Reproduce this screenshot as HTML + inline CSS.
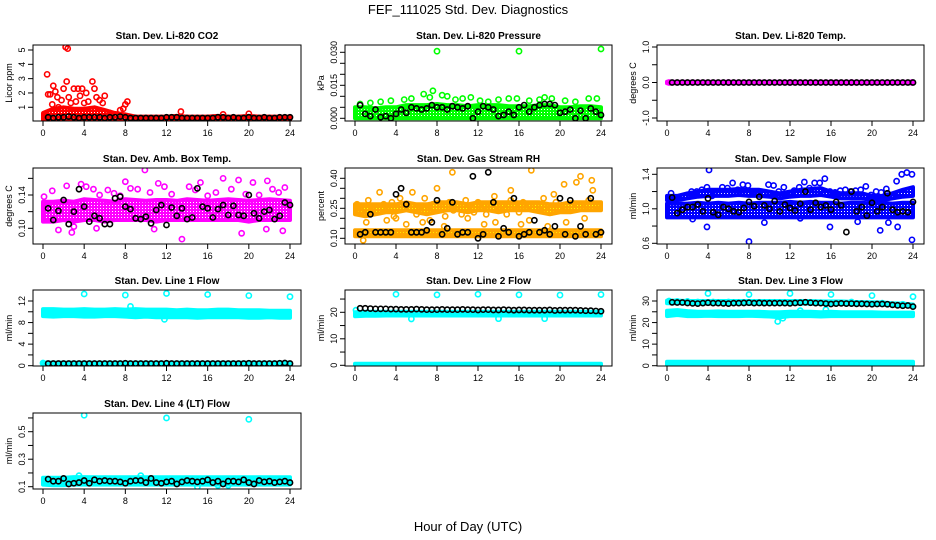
<!DOCTYPE html>
<html><head><meta charset="utf-8"><style>
body{margin:0;background:#fff;}
svg{display:block;font-family:"Liberation Sans",sans-serif;}
</style></head><body>
<svg id="c" width="936" height="540" viewBox="0 0 936 540">
<rect width="936" height="540" fill="#fff"/>
<text x="468" y="14" text-anchor="middle" font-size="13">FEF_111025  Std. Dev. Diagnostics</text>
<text x="468" y="531" text-anchor="middle" font-size="13">Hour of Day (UTC)</text>
</svg>
<script>
const hoursBand=[0,1,2,3,4,5,6,7,8,9,10,11,12,13,14,15,16,17,18,19,20,21,22,23,24];
const halfHours=[0.5,1,1.5,2,2.5,3,3.5,4,4.5,5,5.5,6,6.5,7,7.5,8,8.5,9,9.5,10,10.5,11,11.5,12,12.5,13,13.5,14,14.5,15,15.5,16,16.5,17,17.5,18,18.5,19,19.5,20,20.5,21,21.5,22,22.5,23,23.5,24];
const xTicks=[0,4,8,12,16,20,24];

// CO2
const co2BandLo=[0.1,0.1,0.1,0.1,0.1,0.1,0.1,0.1,0.1,0.1,0.1,0.1,0.1,0.1,0.1,0.1,0.1,0.1,0.1,0.1,0.1,0.1,0.1,0.1,0.1];
const co2BandHi=[0.6,0.9,1.0,0.9,0.9,1.0,0.8,0.6,0.5,0.35,0.35,0.35,0.35,0.4,0.35,0.35,0.35,0.4,0.35,0.35,0.4,0.35,0.35,0.35,0.35];
const co2X=[0.4,0.5,0.7,0.9,1.0,1.2,1.4,1.5,1.8,2.0,2.2,2.3,2.4,2.5,2.7,3.0,3.2,3.4,3.6,3.8,4.0,4.2,4.4,4.8,5.0,5.2,5.5,5.8,6.0,6.5,7.0,7.5,7.8,8.0,8.2,13.4,20.0,17.5];
const co2Y=[3.3,1.9,1.9,1.2,2.5,2.1,1.7,1.0,1.5,2.3,5.2,2.8,5.1,1.7,1.3,2.3,1.4,2.3,1.8,2.3,1.3,2.0,1.4,2.8,2.3,1.7,1.5,1.3,1.8,0.6,0.5,0.8,0.9,1.2,1.4,0.7,0.55,0.5];
const co2K=[0.3,0.25,0.3,0.3,0.35,0.3,0.25,0.3,0.3,0.3,0.3,0.25,0.3,0.3,0.35,0.3,0.25,0.25,0.25,0.25,0.25,0.25,0.25,0.3,0.3,0.3,0.25,0.25,0.25,0.25,0.25,0.25,0.25,0.3,0.3,0.25,0.3,0.25,0.25,0.3,0.25,0.25,0.3,0.25,0.25,0.3,0.3,0.3];

// Pressure
const prBandLo=[0,0,0,0,0,0,0,0,0,0,0,0,0,0,0,0,0,0,0,0,0,0,0,0,0];
const prBandHi=[0.005,0.005,0.0045,0.005,0.005,0.006,0.006,0.006,0.0065,0.006,0.006,0.0055,0.006,0.006,0.006,0.0055,0.0055,0.0055,0.006,0.006,0.005,0.005,0.0055,0.0055,0.005];
const prX=[0.5,1.5,2.5,3.5,4.8,5.5,6.7,7.3,7.6,8.0,8.5,9.0,9.8,10.5,11.3,12.2,13.0,14.0,15.0,15.8,16.0,17.0,18.0,18.5,19.2,20.5,21.5,22.8,23.6,24.0];
const prY=[0.0065,0.007,0.0075,0.008,0.0085,0.009,0.011,0.0095,0.0125,0.0305,0.0105,0.01,0.0085,0.009,0.0095,0.008,0.0075,0.0085,0.009,0.009,0.0305,0.008,0.0085,0.0095,0.009,0.008,0.0075,0.009,0.009,0.0315];
const prK=[0.006,0.002,0.001,0.004,0.0005,0.001,0,0.002,0.004,0.0025,0.005,0.0045,0.004,0.0045,0.006,0.005,0.005,0.004,0.0055,0.005,0.0045,0.0055,0,0.003,0.0055,0.005,0.004,0.001,0.0015,0.003,0.0015,0.005,0.006,0.003,0.005,0.006,0.0065,0.0065,0.006,0.0025,0.003,0.004,0,0.0035,0,0.0045,0.003,0.0015];

// Temp
const tpBandLo=[-0.02,-0.02,-0.02,-0.02,-0.02,-0.02,-0.02,-0.02,-0.02,-0.02,-0.02,-0.02,-0.02,-0.02,-0.02,-0.02,-0.02,-0.02,-0.02,-0.02,-0.02,-0.02,-0.02,-0.02,-0.02];
const tpBandHi=[0.02,0.02,0.02,0.02,0.02,0.02,0.02,0.02,0.02,0.02,0.02,0.02,0.02,0.02,0.02,0.02,0.02,0.02,0.02,0.02,0.02,0.02,0.02,0.02,0.02];
const tpX=[0.2,6.0,12.0,18.0,23.9];
const tpY=[0,0,0,0,0];
const tpK=[0,0,0,0,0,0,0,0,0,0,0,0,0,0,0,0,0,0,0,0,0,0,0,0,0,0,0,0,0,0,0,0,0,0,0,0,0,0,0,0,0,0,0,0,0,0,0,0];

// Amb box temp
const abBandLo=[0.108,0.108,0.11,0.108,0.11,0.11,0.108,0.11,0.11,0.11,0.11,0.108,0.11,0.11,0.11,0.11,0.11,0.11,0.11,0.11,0.108,0.11,0.11,0.11,0.11];
const abBandHi=[0.132,0.132,0.133,0.132,0.135,0.134,0.133,0.132,0.135,0.134,0.133,0.134,0.134,0.133,0.135,0.134,0.133,0.134,0.135,0.134,0.133,0.134,0.135,0.134,0.133];
const abX=[0.1,0.9,1.5,2.3,2.8,3.7,4.2,4.9,5.5,6.3,6.9,7.5,8.0,8.5,9.2,9.9,10.4,11.2,11.8,12.5,13.5,14.2,14.8,15.3,16.0,16.8,17.5,18.3,19.0,19.7,20.4,21.0,21.8,22.3,22.9,23.5,3.0,5.2,10.8,19.3,21.7,23.3];
const abY=[0.138,0.145,0.098,0.151,0.095,0.153,0.15,0.147,0.14,0.146,0.142,0.139,0.156,0.148,0.147,0.17,0.143,0.154,0.15,0.141,0.087,0.15,0.146,0.155,0.139,0.143,0.16,0.147,0.158,0.141,0.155,0.14,0.157,0.147,0.143,0.149,0.102,0.1,0.099,0.094,0.099,0.097];
const abK=[0.124,0.11,0.121,0.134,0.105,0.12,0.147,0.126,0.108,0.115,0.112,0.105,0.105,0.136,0.138,0.126,0.123,0.112,0.111,0.114,0.106,0.122,0.128,0.104,0.125,0.115,0.124,0.111,0.113,0.148,0.126,0.124,0.113,0.123,0.128,0.116,0.127,0.116,0.115,0.14,0.118,0.112,0.12,0.122,0.111,0.115,0.131,0.128];

// Gas stream RH
const rhBandLo=[0.11,0.11,0.11,0.11,0.11,0.11,0.11,0.11,0.11,0.11,0.11,0.11,0.11,0.11,0.11,0.11,0.11,0.11,0.11,0.11,0.11,0.11,0.11,0.11,0.11];
const rhBandHi=[0.14,0.14,0.14,0.14,0.14,0.14,0.14,0.14,0.14,0.14,0.14,0.14,0.14,0.14,0.14,0.14,0.14,0.14,0.14,0.14,0.14,0.14,0.14,0.14,0.14];
const rhUpLo=[0.22,0.21,0.22,0.23,0.23,0.24,0.23,0.22,0.23,0.24,0.24,0.23,0.24,0.24,0.23,0.24,0.24,0.24,0.23,0.22,0.23,0.23,0.24,0.24,0.24];
const rhUpHi=[0.27,0.27,0.27,0.27,0.27,0.28,0.27,0.27,0.28,0.28,0.28,0.27,0.28,0.28,0.28,0.28,0.28,0.28,0.28,0.27,0.27,0.28,0.28,0.28,0.28];
const rhX=[0.2,0.5,0.9,1.3,1.6,2.0,2.4,2.8,3.2,3.6,4.0,4.4,4.8,5.2,5.6,6.0,6.4,6.8,7.2,7.6,8.0,8.4,8.8,9.2,9.6,10.0,10.4,10.8,11.2,11.6,12.0,12.4,12.8,13.2,13.6,14.0,14.4,14.8,15.2,15.6,16.0,16.4,16.8,17.2,17.6,18.0,18.4,18.8,19.2,19.6,20.0,20.4,20.8,21.2,21.6,22.0,22.4,22.8,23.2,23.6,1.1,3.1,5.0,7.3,8.7,11.0,13.7,16.2,17.0,18.8,20.6,22.4,3.8,9.5,15.2,19.4,23.1,0.8,6.6,12.6];
const rhY=[0.27,0.24,0.22,0.29,0.26,0.23,0.33,0.27,0.24,0.28,0.2,0.3,0.25,0.27,0.33,0.22,0.26,0.3,0.24,0.27,0.35,0.25,0.21,0.28,0.24,0.27,0.22,0.29,0.26,0.23,0.28,0.25,0.22,0.27,0.31,0.24,0.26,0.22,0.29,0.26,0.23,0.28,0.25,0.44,0.27,0.24,0.3,0.26,0.23,0.28,0.25,0.37,0.24,0.27,0.38,0.41,0.25,0.29,0.34,0.26,0.18,0.19,0.17,0.19,0.16,0.2,0.18,0.17,0.19,0.16,0.18,0.2,0.21,0.43,0.34,0.32,0.39,0.09,0.18,0.17];
const rhK=[0.12,0.13,0.22,0.13,0.13,0.13,0.13,0.32,0.35,0.27,0.13,0.13,0.13,0.14,0.18,0.29,0.12,0.15,0.28,0.12,0.13,0.13,0.41,0.1,0.12,0.43,0.28,0.11,0.15,0.13,0.3,0.11,0.12,0.13,0.19,0.13,0.14,0.12,0.16,0.3,0.12,0.29,0.11,0.16,0.12,0.3,0.12,0.13];

// Sample flow
const sfBandLo=[0.9,0.9,0.9,0.9,0.9,0.9,0.9,0.9,0.9,0.9,0.9,0.9,0.9,0.9,0.9,0.9,0.9,0.9,0.9,0.9,0.9,0.9,0.9,0.9,0.9];
const sfBandHi=[1.06,1.06,1.06,1.07,1.06,1.07,1.06,1.07,1.06,1.07,1.07,1.07,1.08,1.07,1.08,1.07,1.07,1.06,1.07,1.07,1.06,1.07,1.06,1.07,1.07];
const sfUpLo=[1.1,1.1,1.12,1.14,1.15,1.15,1.15,1.16,1.15,1.15,1.14,1.12,1.14,1.15,1.15,1.16,1.14,1.12,1.12,1.12,1.1,1.1,1.12,1.14,1.15];
const sfUpHi=[1.15,1.15,1.18,1.2,1.22,1.22,1.22,1.23,1.22,1.22,1.2,1.18,1.2,1.22,1.23,1.24,1.2,1.18,1.18,1.18,1.15,1.15,1.18,1.22,1.25];
const sfX=[0.4,0.9,1.4,1.9,2.4,2.9,3.4,3.9,4.4,4.9,5.4,5.9,6.4,6.9,7.4,7.9,8.4,8.9,9.4,9.9,10.4,10.9,11.4,11.9,12.4,12.9,13.4,13.9,14.4,14.9,15.4,15.9,16.4,16.9,17.4,17.9,18.4,18.9,19.4,19.9,20.4,20.9,21.4,21.9,22.4,22.9,23.4,23.9,4.1,8.0,23.9,3.9,9.5,15.9,20.8,21.6,22.5,18.6,13.0,2.5];
const sfY=[1.18,1.12,1.14,1.15,1.2,1.2,1.22,1.25,1.15,1.17,1.25,1.24,1.3,1.22,1.28,1.27,1.2,1.2,1.18,1.28,1.27,1.2,1.25,1.18,1.21,1.25,1.31,1.24,1.3,1.3,1.35,1.2,1.19,1.21,1.22,1.2,1.21,1.22,1.26,1.16,1.2,1.19,1.23,1.16,1.32,1.4,1.42,1.4,1.45,0.62,0.64,0.79,0.84,0.79,0.75,0.84,0.79,0.85,0.89,0.88];
const sfK=[1.13,0.95,0.99,1.02,1.02,1.05,0.97,1.12,0.96,0.93,1.02,1.0,0.97,0.96,1.01,1.08,1.03,1.14,1.04,1.0,1.09,0.97,1.05,1.01,0.98,1.06,1.2,0.99,1.07,1.02,1.04,0.99,1.08,1.04,0.73,1.2,0.97,1.02,0.92,1.07,0.97,1.02,1.18,0.99,0.96,0.97,0.96,1.08];

// Line 1
const l1BandLo=[9.2,9.1,9.2,9.2,9.1,9.1,9.2,9.2,9.1,9.0,9.1,9.0,9.0,9.0,9.0,8.9,9.0,9.0,9.0,9.0,8.9,8.9,9.0,8.9,8.9];
const l1BandHi=[10.5,10.5,10.4,10.4,10.5,10.4,10.4,10.5,10.4,10.5,10.4,10.4,10.4,10.3,10.4,10.3,10.3,10.4,10.4,10.3,10.3,10.3,10.2,10.2,10.2];
const l1LoLo=[0.2,0.2,0.2,0.2,0.2,0.2,0.2,0.2,0.2,0.2,0.2,0.2,0.2,0.2,0.2,0.2,0.2,0.2,0.2,0.2,0.2,0.2,0.2,0.2,0.2];
const l1LoHi=[0.6,0.6,0.6,0.6,0.6,0.6,0.6,0.6,0.6,0.6,0.6,0.6,0.6,0.6,0.6,0.6,0.6,0.6,0.6,0.6,0.6,0.6,0.6,0.6,0.6];
const l1X=[4,8,12,16,20,24,0,8.5,11.8];
const l1Y=[13.3,13.1,13.4,13.2,13.0,12.8,0.5,11.0,8.6];
const l1K=[0.4,0.4,0.4,0.4,0.4,0.4,0.4,0.4,0.4,0.4,0.4,0.4,0.4,0.4,0.4,0.45,0.4,0.4,0.4,0.4,0.4,0.4,0.4,0.45,0.4,0.4,0.4,0.4,0.4,0.4,0.4,0.4,0.4,0.4,0.4,0.4,0.4,0.4,0.4,0.45,0.4,0.4,0.4,0.4,0.4,0.45,0.5,0.4];

// Line 2
const l2BandLo=[18.5,18.7,18.7,18.8,18.8,18.8,18.8,18.8,18.8,18.8,18.8,18.8,18.8,18.8,18.8,18.8,18.8,18.8,18.8,18.8,18.8,18.8,18.8,18.8,18.8];
const l2BandHi=[20.0,20.2,20.2,20.2,20.2,20.2,20.2,20.2,20.2,20.2,20.2,20.2,20.2,20.2,20.2,20.2,20.2,20.2,20.2,20.2,20.2,20.2,20.2,20.2,20.2];
const l2LoLo=[0,0,0,0,0,0,0,0,0,0,0,0,0,0,0,0,0,0,0,0,0,0,0,0,0];
const l2LoHi=[0.6,0.6,0.6,0.6,0.6,0.6,0.6,0.6,0.6,0.6,0.6,0.6,0.6,0.6,0.6,0.6,0.6,0.6,0.6,0.6,0.6,0.6,0.6,0.6,0.6];
const l2X=[4,8,12,16,20,24,0.1,5.5,14.0,18.5];
const l2Y=[26.8,26.6,26.8,26.6,26.5,26.7,20.8,17.5,17.6,17.6];
const l2K=[21.5,21.5,21.4,21.3,21.3,21.3,21.2,21.2,21.1,21.1,21.1,21.2,21.1,21.0,21.0,21.0,21.1,21.0,21.0,21.0,21.1,21.0,21.0,20.9,21.0,21.0,20.9,20.9,21.0,20.9,20.8,20.9,20.9,20.8,20.8,20.8,20.8,20.9,20.7,20.8,20.8,20.8,20.8,20.7,20.6,20.6,20.5,20.4];

// Line 3
const l3BandLo=[23.0,23.5,23.0,23.0,23.2,23.0,23.0,23.0,23.2,23.0,22.8,22.5,23.0,23.0,23.0,22.8,23.0,23.0,23.0,23.0,23.0,23.0,23.0,23.0,23.0];
const l3BandHi=[25.5,25.8,25.3,25.0,25.0,25.2,25.0,25.0,25.0,25.0,24.8,24.8,25.0,25.0,25.0,24.8,25.0,24.8,24.8,24.8,24.8,24.6,24.6,24.6,24.6];
const l3LoLo=[0.3,0.3,0.3,0.3,0.3,0.3,0.3,0.3,0.3,0.3,0.3,0.3,0.3,0.3,0.3,0.3,0.3,0.3,0.3,0.3,0.3,0.3,0.3,0.3,0.3];
const l3LoHi=[1.8,1.8,1.8,1.8,1.8,1.8,1.8,1.8,1.8,1.8,1.8,1.8,1.8,1.8,1.8,1.8,1.8,1.8,1.8,1.8,1.8,1.8,1.8,1.8,1.8];
const l3TopLo=[29.0,29.0,29.0,28.9,28.8,28.8,28.8,28.8,28.8,28.8,28.8,28.8,28.8,28.8,28.8,28.6,28.6,28.6,28.5,28.4,28.3,28.2,28.0,27.8,27.4];
const l3TopHi=[30.2,30.2,30.0,30.0,30.0,30.0,30.0,30.0,30.0,30.0,30.0,30.0,30.0,30.0,30.0,29.8,29.8,29.8,29.6,29.5,29.4,29.3,29.0,28.8,28.4];
const l3X=[4,8,12,16,20,24,0.2,1.0,2.0,3.0,4.5,6.0,10.8,11.3,13.0,15.5,18.0,21.0,23.0];
const l3Y=[33.5,33.0,33.5,33.0,32.5,32.0,30.0,29.8,29.8,29.5,29.5,29.5,20.5,22.0,25.5,26.0,29.5,29.0,28.5];
const l3K=[29.4,29.3,29.3,29.1,28.9,28.8,29.0,29.2,29.0,29.0,28.9,28.8,29.0,29.0,29.1,29.2,29.0,29.1,29.0,29.0,29.0,29.0,29.0,28.9,29.1,29.2,29.4,29.2,29.0,29.0,28.8,28.6,28.8,28.9,28.8,28.8,28.7,28.7,28.6,28.5,28.6,28.6,28.5,28.2,28.0,27.8,27.9,27.4];

// Line 4
const l4BandLo=[0.115,0.11,0.11,0.115,0.115,0.115,0.115,0.115,0.115,0.115,0.115,0.115,0.115,0.115,0.115,0.115,0.115,0.115,0.115,0.115,0.115,0.115,0.115,0.115,0.115];
const l4BandHi=[0.165,0.165,0.165,0.17,0.17,0.168,0.168,0.168,0.168,0.168,0.168,0.168,0.168,0.168,0.168,0.168,0.168,0.168,0.168,0.168,0.168,0.168,0.168,0.168,0.168];
const l4X=[4,12,20,15,17,18.0,3.5,9.5];
const l4Y=[0.62,0.6,0.59,0.1,0.11,0.11,0.18,0.18];
const l4K=[0.155,0.14,0.14,0.16,0.12,0.125,0.13,0.145,0.125,0.15,0.14,0.145,0.14,0.14,0.135,0.125,0.14,0.145,0.145,0.13,0.16,0.13,0.125,0.135,0.14,0.12,0.135,0.145,0.14,0.135,0.14,0.15,0.13,0.14,0.12,0.14,0.14,0.135,0.15,0.13,0.12,0.145,0.135,0.14,0.13,0.135,0.14,0.13];

const cols=[{l:33,r:301,x0:43,x1:290},{l:345,r:612,x0:355,x1:601},{l:657,r:924,x0:667,x1:913}];
const rows=[{t:45,b:121},{t:168,b:244},{t:290,b:366},{t:413,b:489}];

const panels=[
 {title:'Stan. Dev. Li-820 CO2',ylab:'Licor ppm',c:0,r:0,color:'#ff0000',dot:'#ffffff',v0:0,p0:121.6,v1:5,p1:50,ticks:[1,2,3,4,5],labels:['1','2','3','4','5'],bands:[[co2BandLo,co2BandHi]],px:co2X,py:co2Y,k:co2K},
 {title:'Stan. Dev. Li-820 Pressure',ylab:'kPa',c:1,r:0,color:'#00ff00',dot:'#ffffff',v0:0,p0:118.3,v1:0.03,p1:52.3,ticks:[0,0.005,0.01,0.015,0.02,0.025,0.03],labels:['0.000','','','0.015','','','0.030'],bands:[[prBandLo,prBandHi]],px:prX,py:prY,k:prK},
 {title:'Stan. Dev. Li-820 Temp.',ylab:'degrees C',c:2,r:0,color:'#ff00ff',dot:'#ff00ff',v0:-1,p0:118,v1:1,p1:47,ticks:[-1,-0.5,0,0.5,1],labels:['-1.0','','0.0','','1.0'],bands:[[tpBandLo,tpBandHi]],px:tpX,py:tpY,k:tpK},
 {title:'Stan. Dev. Amb. Box Temp.',ylab:'degrees C',c:0,r:1,color:'#ff00ff',dot:'#ffffff',v0:0.10,p0:228.3,v1:0.14,p1:195,ticks:[0.10,0.12,0.14,0.16],labels:['0.10','','0.14',''],bands:[[abBandLo,abBandHi]],px:abX,py:abY,k:abK},
 {title:'Stan. Dev. Gas Stream RH',ylab:'percent',c:1,r:1,color:'#ffa500',dot:'#ffff00',v0:0.10,p0:238.3,v1:0.40,p1:178.3,ticks:[0.1,0.15,0.2,0.25,0.3,0.35,0.4],labels:['0.10','','','0.25','','','0.40'],bands:[[rhBandLo,rhBandHi],[rhUpLo,rhUpHi]],px:rhX,py:rhY,k:rhK},
 {title:'Stan. Dev. Sample Flow',ylab:'ml/min',c:2,r:1,color:'#0000ff',dot:'#ffffff',v0:0.6,p0:243.3,v1:1.4,p1:174.3,ticks:[0.6,0.8,1.0,1.2,1.4],labels:['0.6','','1.0','','1.4'],bands:[[sfBandLo,sfBandHi],[sfUpLo,sfUpHi]],px:sfX,py:sfY,k:sfK},
 {title:'Stan. Dev. Line 1 Flow',ylab:'ml/min',c:0,r:2,color:'#00ffff',dot:'#00ffff',v0:0,p0:365.7,v1:12,p1:301,ticks:[0,2,4,6,8,10,12],labels:['0','','4','','8','','12'],bands:[[l1BandLo,l1BandHi],[l1LoLo,l1LoHi]],px:l1X,py:l1Y,k:l1K},
 {title:'Stan. Dev. Line 2 Flow',ylab:'ml/min',c:1,r:2,color:'#00ffff',dot:'#00ffff',v0:0,p0:365.3,v1:20,p1:312.3,ticks:[0,5,10,15,20,25],labels:['0','','10','','20',''],bands:[[l2BandLo,l2BandHi],[l2LoLo,l2LoHi]],px:l2X,py:l2Y,k:l2K},
 {title:'Stan. Dev. Line 3 Flow',ylab:'ml/min',c:2,r:2,color:'#00ffff',dot:'#00ffff',v0:0,p0:365.7,v1:30,p1:301,ticks:[0,5,10,15,20,25,30],labels:['0','','10','','20','','30'],bands:[[l3BandLo,l3BandHi],[l3LoLo,l3LoHi],[l3TopLo,l3TopHi]],px:l3X,py:l3Y,k:l3K},
 {title:'Stan. Dev. Line 4 (LT) Flow',ylab:'ml/min',c:0,r:3,color:'#00ffff',dot:'#00ffff',v0:0.1,p0:486.7,v1:0.5,p1:431.7,ticks:[0.1,0.2,0.3,0.4,0.5,0.6],labels:['0.1','','0.3','','0.5',''],bands:[[l4BandLo,l4BandHi]],px:l4X,py:l4Y,k:l4K}
];

const svg=document.getElementById('c');
const NS='http://www.w3.org/2000/svg';
function mk(tag,attrs,parent){const e=document.createElementNS(NS,tag);for(const a in attrs)e.setAttribute(a,attrs[a]);parent.appendChild(e);return e;}
const defs=mk('defs',{},svg);

panels.forEach((p,i)=>{
  const C=cols[p.c],R=rows[p.r];
  const xs=v=>C.x0+(v/24)*(C.x1-C.x0);
  const ys=v=>p.p0+(v-p.v0)*(p.p1-p.p0)/(p.v1-p.v0);
  const pat=mk('pattern',{id:'pt'+i,width:3,height:3,patternUnits:'userSpaceOnUse'},defs);
  mk('rect',{width:3,height:3,fill:p.color},pat);
  mk('rect',{x:1,y:1,width:1,height:1,fill:p.dot},pat);
  const g=mk('g',{},svg);
  
  
  const clip=mk('clipPath',{id:'cl'+i},g);
  mk('rect',{x:C.l,y:R.t,width:C.r-C.l,height:R.b-R.t},clip);
  const pg=mk('g',{'clip-path':'url(#cl'+i+')'},g);
  p.bands.forEach(b=>{
    let d='';
    hoursBand.forEach((h,j)=>{d+=(j?'L':'M')+xs(h).toFixed(1)+','+ys(b[1][j]).toFixed(1);});
    for(let j=hoursBand.length-1;j>=0;j--)d+='L'+xs(hoursBand[j]).toFixed(1)+','+ys(b[0][j]).toFixed(1);
    const band=mk('path',{d:d+'Z',fill:'url(#pt'+i+')',stroke:p.color,'stroke-width':4,'stroke-linejoin':'round'},pg);
    
    
  });
  p.px.forEach((x,j)=>{
    const c=mk('circle',{cx:xs(x),cy:ys(p.py[j]),r:2.6,fill:'none',stroke:p.color,'stroke-width':1.6},pg);
    
    
  });
  p.k.forEach((v,j)=>{
    const c=mk('circle',{cx:xs(halfHours[j]),cy:ys(v),r:2.6,fill:'none',stroke:'#000','stroke-width':1.6},pg);
    
    
  });
  const box=mk('rect',{x:C.l,y:R.t,width:C.r-C.l,height:R.b-R.t,fill:'none',stroke:'#000','stroke-width':1},g);
  
  
  mk('line',{x1:xs(0),x2:xs(24),y1:R.b,y2:R.b,stroke:'#000'},g);
  xTicks.forEach(t=>{
    mk('line',{x1:xs(t),x2:xs(t),y1:R.b,y2:R.b+5,stroke:'#000'},g);
    const tx=mk('text',{x:xs(t),y:R.b+15,'text-anchor':'middle','font-size':9},g);
    tx.textContent=t;
    
    
  });
  const ty0=ys(p.ticks[0]),ty1=ys(p.ticks[p.ticks.length-1]);
  mk('line',{x1:C.l,x2:C.l,y1:ty0,y2:ty1,stroke:'#000'},g);
  p.ticks.forEach((t,j)=>{
    const y=ys(t);
    mk('line',{x1:C.l-5,x2:C.l,y1:y,y2:y,stroke:'#000'},g);
    if(p.labels[j]){
      const tx=mk('text',{x:0,y:0,'text-anchor':'middle','font-size':9,transform:'translate('+(C.l-8)+','+y+') rotate(-90)'},g);
      tx.textContent=p.labels[j];
      
      
    }
  });
  const yl=mk('text',{x:0,y:0,'text-anchor':'middle','font-size':9,transform:'translate('+(C.l-21)+','+((R.t+R.b)/2)+') rotate(-90)'},g);
  yl.textContent=p.ylab;
  
  
  const tt=mk('text',{x:(C.l+C.r)/2,y:R.t-6,'text-anchor':'middle','font-size':10,'font-weight':'bold'},g);
  tt.textContent=p.title;
  
  
});
</script>
</body></html>
